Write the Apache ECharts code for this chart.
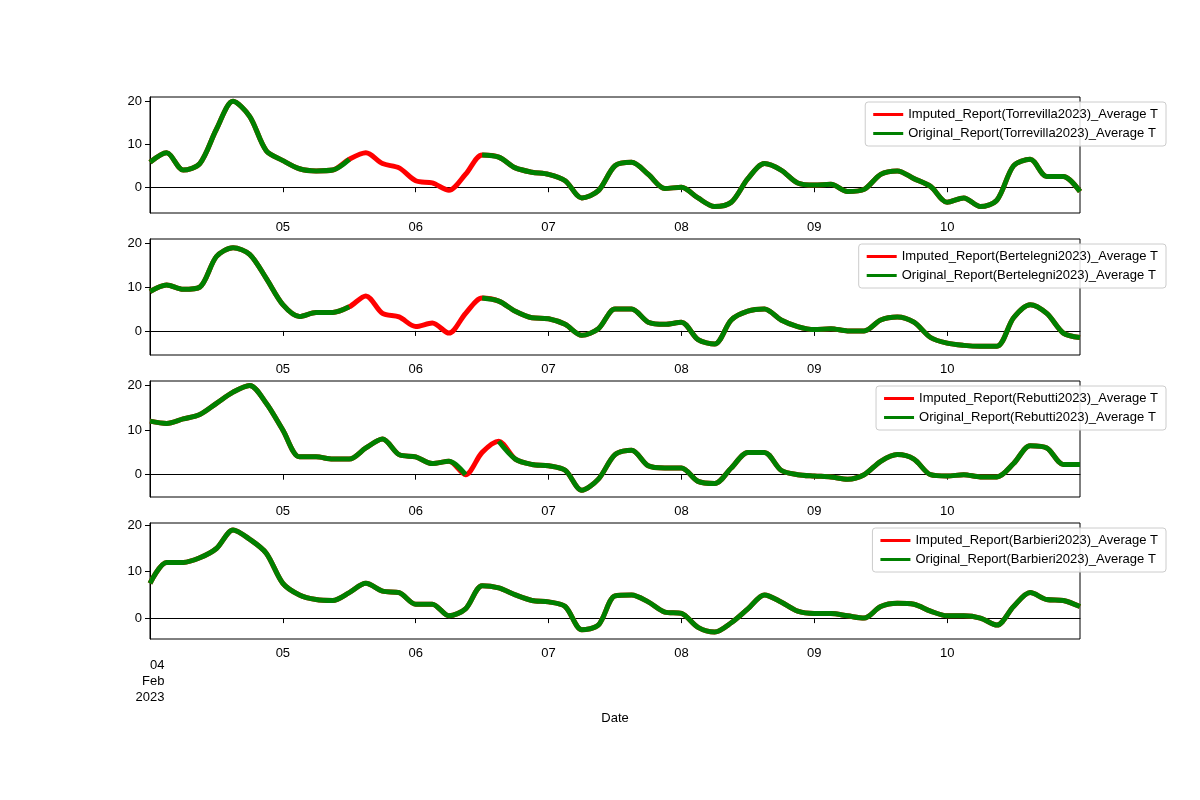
<!DOCTYPE html>
<html>
<head>
<meta charset="utf-8">
<script src="https://cdn.jsdelivr.net/npm/echarts@6/dist/echarts.min.js"></script>
<style>html,body{margin:0;background:#fff}#c{width:1200px;height:800px}</style>
</head>
<body>
<div id="c"></div>
<script>
// hours since 04 Feb 2023 00:00, 3-hour steps
const hours = [];
for (let h = 0; h <= 168; h += 3) hours.push(h);

const stations = ['Torrevilla2023', 'Bertelegni2023', 'Rebutti2023', 'Barbieri2023'];

const torrevilla = [5.8, 8, 4, 5.5, 13.5, 20, 16.5, 8.5, 6.2, 4.3, 3.8, 4, 6.5, 8, 5.5, 4.5, 1.5, 1, -0.7, 3,
    7.5, 7, 4.5, 3.5, 3, 1.5, -2.5, -0.8, 5, 5.8, 3, -0.3, 0, -2.5, -4.5, -3.5, 2, 5.5, 4, 1,
    0.5, 0.7, -1, -0.5, 3, 3.8, 2, 0.2, -3.5, -2.5, -4.5, -3, 5, 6.5, 2.5, 2.5, -1];
const bertelegni = [9, 10.5, 9.5, 10, 17, 19, 17.5, 12, 6, 3.3, 4.2, 4.2, 5.5, 8, 4, 3.2, 1, 1.8, -0.5, 4,
    7.5, 6.8, 4.5, 3, 2.8, 1.5, -1, 0.5, 5, 5, 2, 1.5, 2, -2, -3, 2.5, 4.5, 5, 2.5, 1,
    0.3, 0.5, 0, 0, 2.5, 3.2, 2, -1.5, -2.8, -3.3, -3.5, -3.5, 3, 6, 4, -0.5, -1.5];
const rebutti = [12, 11.5, 12.5, 13.5, 16, 18.5, 20, 16, 10, 4, 4, 3.5, 3.5, 6, 8, 4.5, 4, 2.5, 3, 0,
    5, 7.5, 3.5, 2.3, 2, 1, -3.5, -1, 4.5, 5.5, 2, 1.5, 1.5, -1.5, -2, 1.5, 5, 5, 1, 0,
    -0.3, -0.5, -1, 0, 3, 4.5, 3.5, 0, -0.3, 0, -0.5, -0.5, 2.5, 6.5, 6, 2.3, 2.3];
const barbieri = [7.5, 12, 12, 13, 15, 19, 17, 14, 7.5, 5, 4, 3.8, 5.5, 7.5, 5.8, 5.5, 3, 3, 0.5, 2,
    7, 6.5, 5, 3.8, 3.5, 2.5, -2.5, -1.5, 4.8, 5, 3.5, 1.3, 1, -2, -3, -1, 2, 5, 3.5, 1.5,
    1, 1, 0.5, 0, 2.5, 3.2, 3, 1.5, 0.5, 0.5, 0, -1.5, 2.5, 5.5, 4, 3.8, 2.5];
const allValues = [torrevilla, bertelegni, rebutti, barbieri];

// index ranges [from, to] (inclusive) where values are imputed (original missing)
const imputedRanges = [[13, 19], [13, 19], [20, 20], null];

const yMins = [-6, -5.5, -5, -4.5];
const yMaxs = [21, 21, 21, 20.5];
const yTicks = [-0, 10, 20];

const tops = [97, 239, 381, 523];
const gridH = 116;

const grids = [], xAxes = [], yAxes = [], series = [], legends = [];
stations.forEach((st, i) => {
    grids.push({left: 150, width: 930, top: tops[i], height: gridH, show: true, borderColor: '#000', borderWidth: 1});
    const last = i === 3;
    xAxes.push({
        type: 'value', gridIndex: i, min: 0, max: 168, interval: 24,
        axisLine: {lineStyle: {color: '#000'}},
        axisTick: {lineStyle: {color: '#000'}, length: 5},
        splitLine: {show: false},
        axisLabel: {
            color: '#000', fontSize: 13, showMaxLabel: false,
            rotate: 0,
            formatter: v => {
                const d = 4 + v / 24;
                if (v === 0) return last ? '{r|04\nFeb\n2023}' : '';
                return String(d).padStart(2, '0');
            },
            rich: {r: {fontSize: 13, align: 'right', lineHeight: 16, padding: [20, 0, 0, 0]}}
        },
        name: last ? 'Date' : '', nameLocation: 'middle', nameGap: 73,
        nameTextStyle: {color: '#000', fontSize: 13}
    });
    yAxes.push({
        type: 'value', gridIndex: i, min: yMins[i], max: yMaxs[i],
        axisLine: {show: true, lineStyle: {color: '#000'}},
        axisTick: {show: true, customValues: yTicks, lineStyle: {color: '#000'}, length: 5},
        splitLine: {show: false},
        axisLabel: {color: '#000', fontSize: 13, customValues: yTicks}
    });
    const vals = allValues[i];
    const rng = imputedRanges[i];
    const full = hours.map((h, k) => [h, vals[k]]);
    const orig = hours.map((h, k) => [h, rng && k >= rng[0] && k <= rng[1] ? null : vals[k]]);
    const redName = 'Imputed_Report(' + st + ')_Average T';
    const greenName = 'Original_Report(' + st + ')_Average T';
    series.push({name: redName, type: 'line', xAxisIndex: i, yAxisIndex: i, data: full, smooth: 0.3,
        showSymbol: false, lineStyle: {width: 5, color: '#ff0000'}, itemStyle: {color: '#ff0000'}});
    series.push({name: greenName, type: 'line', xAxisIndex: i, yAxisIndex: i, data: orig, smooth: 0.3,
        showSymbol: false, connectNulls: false, lineStyle: {width: 5, color: '#008000'}, itemStyle: {color: '#008000'}});
    legends.push({
        data: [redName, greenName], orient: 'vertical', right: 34, top: tops[i] + 5,
        backgroundColor: 'rgba(255,255,255,0.85)', borderColor: '#ccc', borderWidth: 1, borderRadius: 3,
        padding: [6, 8], itemGap: 6, itemWidth: 30, itemHeight: 3, icon: 'rect',
        textStyle: {color: '#000', fontSize: 13}
    });
});

const chart = echarts.init(document.getElementById('c'));
chart.setOption({
    backgroundColor: '#fff', animation: false,
    grid: grids, xAxis: xAxes, yAxis: yAxes, series: series, legend: legends
});
</script>
</body>
</html>
